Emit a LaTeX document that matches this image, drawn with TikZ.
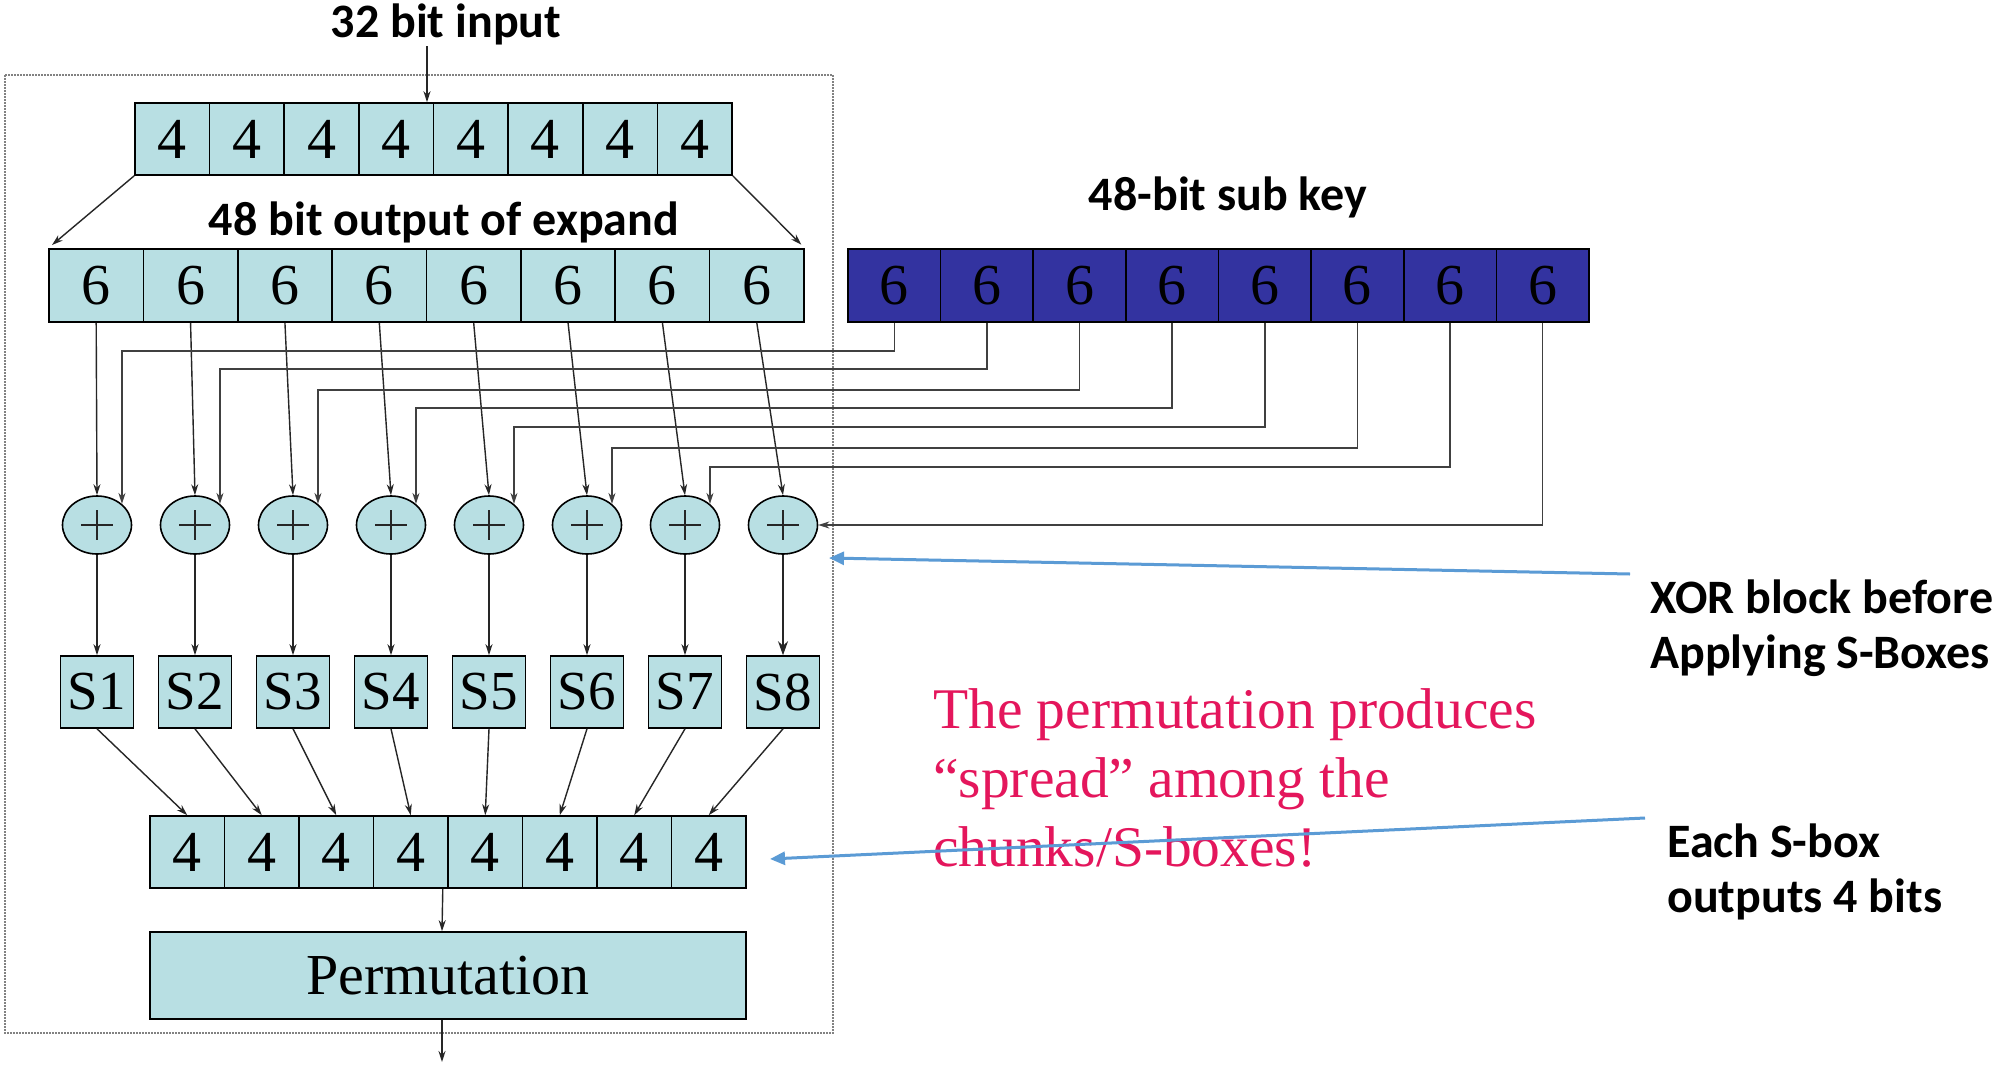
\documentclass[tikz,border=0pt]{standalone}
\usepackage{fontspec}
\setmainfont{Liberation Serif}
\newfontfamily\labelfont{Carlito}
\usetikzlibrary{arrows.meta,shapes.geometric,calc}
\definecolor{cellblue}{RGB}{184,223,227}
\definecolor{keyblue}{RGB}{51,51,160}
\definecolor{notepink}{RGB}{228,22,92}
\definecolor{callout}{RGB}{91,155,213}
\definecolor{framegray}{RGB}{130,130,130}
\begin{document}
\begin{tikzpicture}[x=1pt,y=-1pt,
  cell/.style={draw=black,line width=1.6pt,fill=cellblue,minimum height=72pt,
    inner sep=0pt,font=\fontsize{58}{60}\selectfont},
  keycell/.style={cell,fill=keyblue,minimum width=92.625pt,minimum height=73pt},
  xorbox/.style={ellipse,draw=black,line width=1.6pt,fill=cellblue,
    minimum width=69pt,minimum height=58pt,inner sep=0pt},
  sbox/.style={cell,minimum width=73pt,font=\fontsize{55}{57}\selectfont},
  wire/.style={line width=1.4pt,draw=black!85},
  keywire/.style={line width=1.5pt,draw=black!75},
  arr/.style={wire,-{Stealth[length=11pt,width=7pt]}},
  keyarr/.style={keywire,-{Stealth[length=11pt,width=7pt]}},
  heading/.style={font=\labelfont\bfseries\fontsize{48}{56}\selectfont,inner sep=0pt},
  note/.style={font=\fontsize{57.5}{69}\selectfont,text=notepink,inner sep=0pt},
  callarrow/.style={draw=callout,line width=3pt,-{Triangle[length=15pt,width=13pt]}}
]
\useasboundingbox (0,0) rectangle (1998,1066);
\fill[white] (0,0) rectangle (1998,1066);

% outer dotted frame of the round function
\draw[framegray,line width=2pt,densely dotted] (5,75) rectangle (833,1033);

% rows of cells, XOR gates and S-boxes
\foreach \i in {1,...,8}{
  \node[cell,minimum width=74.625pt] (t\i) at ({135+74.625*(\i-0.5)},139) {4};
  \node[cell,minimum width=94.375pt,minimum height=73pt] (e\i) at ({49+94.375*(\i-0.5)},285.5) {6};
  \node[keycell] (k\i) at ({848+92.625*(\i-0.5)},285.5) {6};
  \node[xorbox] (x\i) at ({97+98*(\i-1)},525) {};
  \draw[line width=2pt,black!85] (x\i.center) +(-16,0) -- +(16,0)
                                 (x\i.center) +(0,-15) -- +(0,15);
  \node[sbox] (s\i) at ({97+98*(\i-1)},692) {S\i};
  \node[cell,minimum width=74.5pt] (b\i) at ({150+74.5*(\i-0.5)},852) {4};
}
\node[cell,minimum width=596pt,minimum height=87pt] (perm) at (448,975.5) {Permutation};

% labels
\node[heading,anchor=base] (inlabel) at (446,37) {32 bit input};
\node[heading,anchor=base] (explabel) at (444,235) {48 bit output of expand};
\node[heading,anchor=base] (keylabel) at (1228,210) {48-bit sub key};
\node[heading,anchor=base west] (xornote1) at (1650,613) {XOR block before};
\node[heading,anchor=base west] (xornote2) at (1650,668) {Applying S-Boxes};
\node[heading,anchor=base west] (snote1) at (1667,857) {Each S-box};
\node[heading,anchor=base west] (snote2) at (1667,912) {outputs 4 bits};
\node[note,anchor=base west] (pnote1) at (933,728) {The permutation produces};
\node[note,anchor=base west] (pnote2) at (933,797) {``spread'' among the};
\node[note,anchor=base west] (pnote3) at (933,866) {chunks/S-boxes!};

% input and expansion
\coordinate (in) at (427,46);
\draw[arr] (in) -- (in |- t1.north);
\draw[arr,shorten >=5pt] (t1.south west) -- (e1.north west);
\draw[arr,shorten >=5pt] (t8.south east) -- (e8.north east);

% expanded halves into the XOR gates, then into the S-boxes and output row
\foreach \i in {1,...,7}{
  \draw[arr] (e\i.south) -- (x\i.north);
  \draw[arr] (x\i.south) -- (s\i.north);
  \draw[arr] (s\i.south) -- (b\i.north);
}
\draw[arr] (e8.south) -- (x8.north);
\draw[wire,-{Stealth[length=14pt,width=10pt]}] (x8.south) -- (s8.north);
\draw[arr] (s8.south) -- (b8.north);

% sub-key wiring
\foreach \i/\lv in {1/351,2/369,3/390,4/408,5/427,6/448,7/467}{
  \draw[keyarr] (k\i.south) -- (k\i.south |- 0,\lv) -| (x\i.north east);
}
\draw[keyarr] (k8.south) |- (x8.east);

% permutation
\draw[arr] ([xshift=-6pt]b4.south east) -- ([xshift=-6pt]perm.north);
\coordinate (out) at (442,1062);
\draw[arr] ([xshift=-6pt]perm.south) -- (out);

% callout arrows
\coordinate (c1s) at (1630,574);
\coordinate (c1t) at (829,558);
\coordinate (c2s) at (1645,818);
\coordinate (c2t) at (770,859);
\draw[callarrow] (c1s) -- (c1t);
\draw[callarrow] (c2s) -- (c2t);
\end{tikzpicture}
\end{document}
